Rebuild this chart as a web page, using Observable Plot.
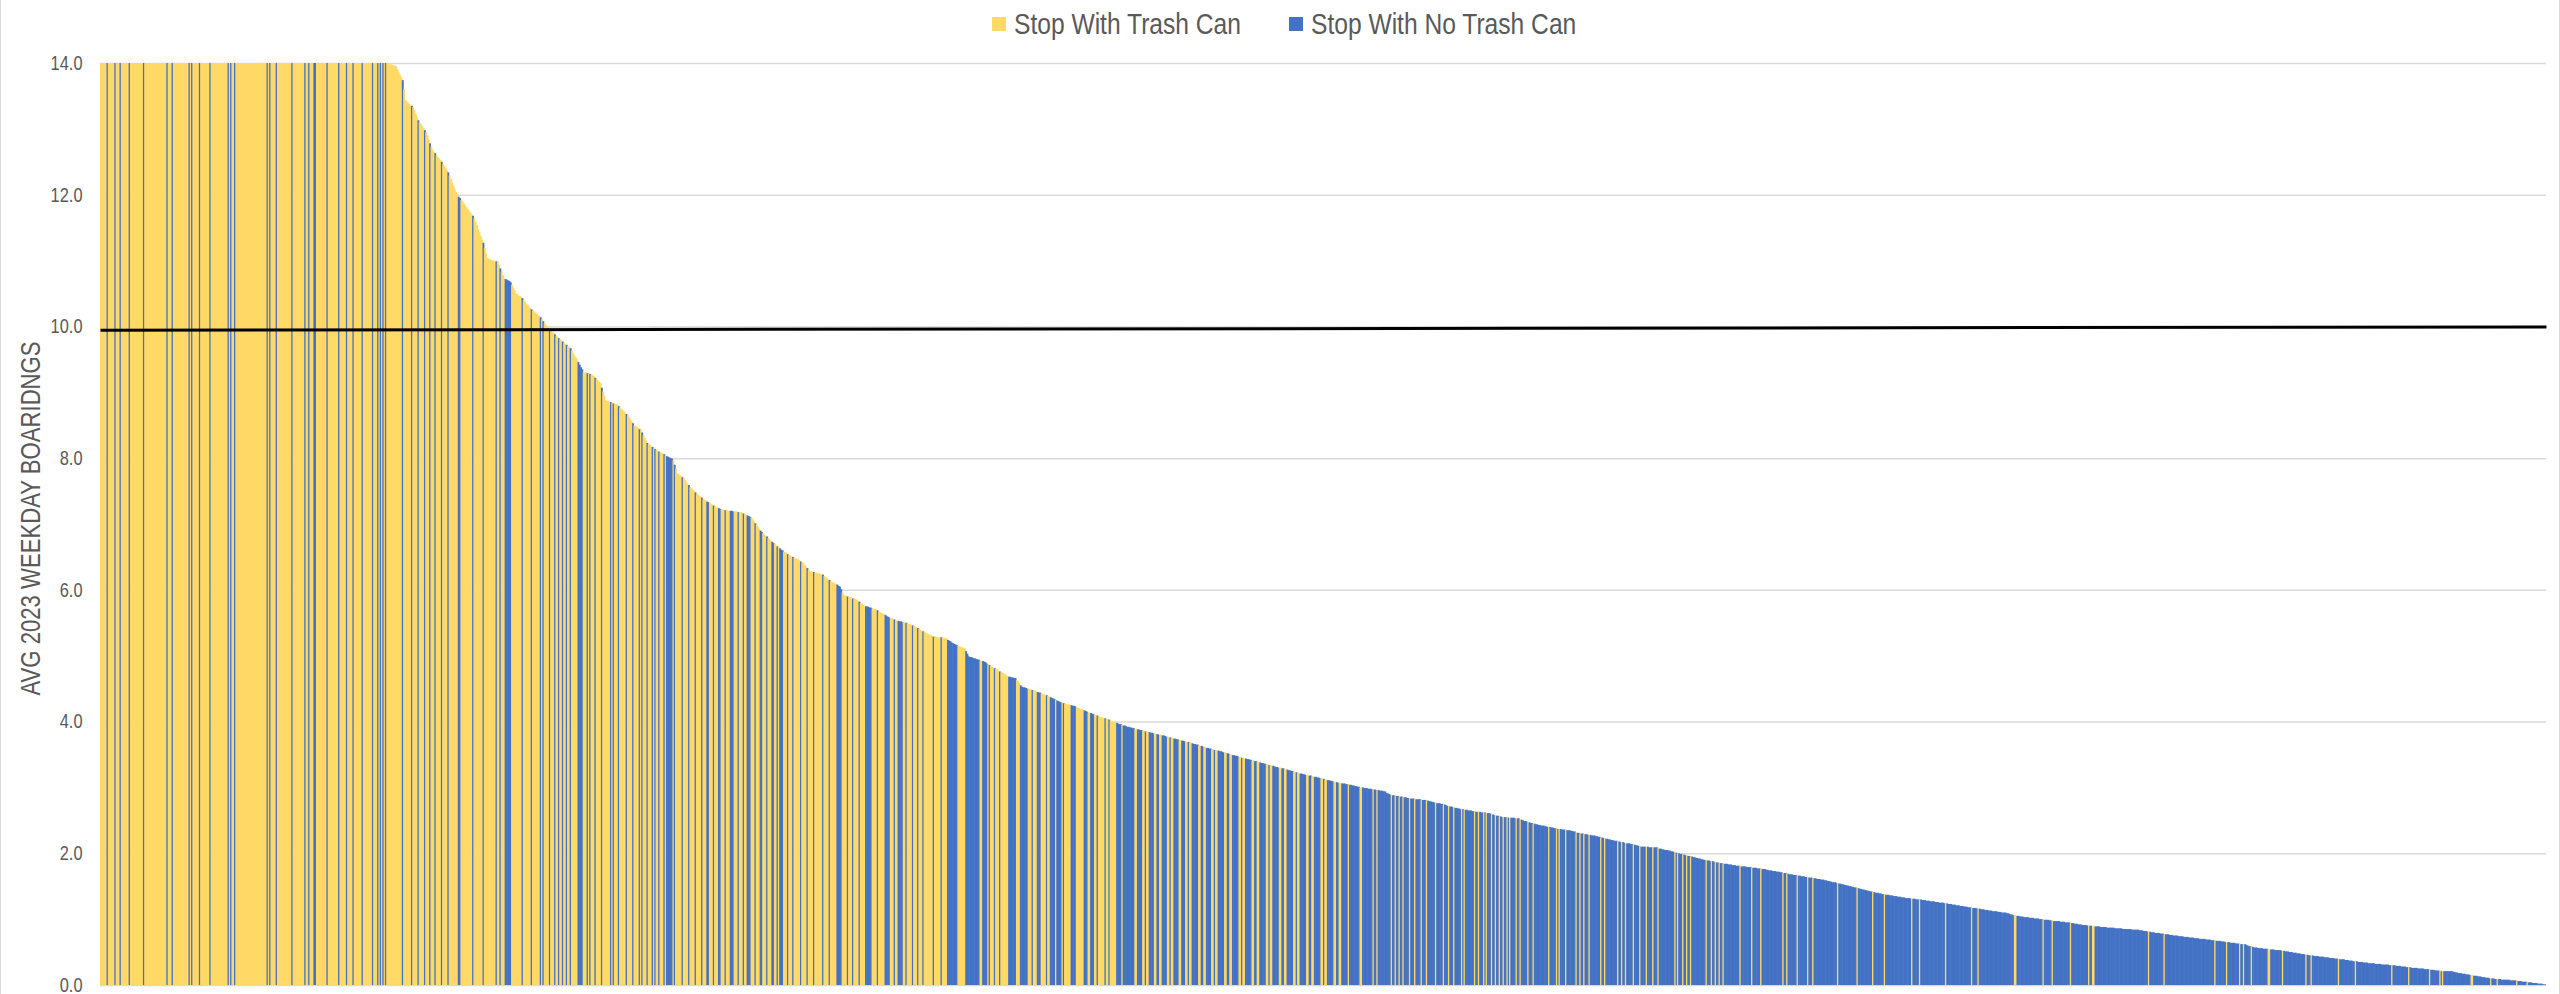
<!DOCTYPE html>
<html>
<head>
<meta charset="utf-8">
<script src="https://cdn.jsdelivr.net/npm/d3@7"></script>
<script src="https://cdn.jsdelivr.net/npm/@observablehq/plot@0.6"></script>
<style>
  html, body { margin: 0; padding: 0; background: #fff; }
  body { width: 2560px; height: 994px; overflow: hidden; position: relative;
         font-family: "Liberation Sans", Arial, sans-serif; }
  #frame { position: absolute; left: 0; top: 0; width: 2558px; height: 994px;
           border-left: 1px solid #d9d9d9; border-right: 1px solid #d9d9d9; pointer-events: none; }
  #legend { height: 40px; display: flex; justify-content: center; align-items: center;
            font-size: 30px; color: #595959; padding-top: 8px; padding-left: 9px; box-sizing: border-box; }
  #legend .item { display: flex; align-items: center; margin: 0 24px; }
  #legend .sw { width: 14px; height: 14px; margin-right: 8px; display: inline-block; }
  #legend .lab { display: inline-block; white-space: nowrap; overflow: visible; }
  #legend .lab span { display: inline-block; transform: scaleX(0.82); transform-origin: 0 50%; }
  #chart svg { display: block; overflow: visible; }
</style>
</head>
<body>
<div id="frame"></div>
<div id="legend"></div>
<div id="chart"></div>
<script>
// ---------- DATA ----------
const categories = ["Stop With Trash Can", "Stop With No Trash Can"];
const colors = ["#FFD966", "#4472C4"];
const yTicks = [0, 2, 4, 6, 8, 10, 12, 14];
const yLabel = "AVG 2023 WEEKDAY BOARIDNGS";
// benchmark line (drawn from the first to the last stop)
const benchmarkStart = 9.95;
const benchmarkEnd = 10.0;

// Average weekday boardings per stop, sorted descending (values above 14 are cut off by the axis)
const boardings = [
212.4,188.1,171.5,160.3,148.9,139.2,131.0,124.6,118.3,112.7,107.9,103.2,99.1,95.4,92.0,88.7,85.6,82.9,80.3,77.8,
75.4,73.1,71.0,69.0,67.1,65.3,63.6,62.0,60.5,59.0,57.6,56.3,55.0,53.8,52.6,51.5,50.4,49.4,48.4,47.4,
46.5,45.6,44.8,44.0,43.2,42.4,41.7,41.0,40.3,39.6,39.0,38.4,37.8,37.2,36.6,36.1,35.6,35.1,34.6,34.1,
33.6,33.2,32.8,32.4,32.0,31.6,31.2,30.8,30.4,30.1,29.8,29.4,29.1,28.8,28.5,28.2,27.9,27.6,27.3,27.0,
26.8,26.5,26.2,26.0,25.7,25.5,25.2,25.0,24.7,24.5,24.3,24.0,23.8,23.6,23.4,23.2,23.0,22.8,22.6,22.4,
22.2,22.0,21.8,21.6,21.4,21.2,21.0,20.9,20.7,20.5,20.3,20.2,20.0,19.8,19.7,19.5,19.4,19.2,19.1,18.9,
18.8,18.6,18.5,18.3,18.2,18.1,17.9,17.8,17.7,17.5,17.4,17.3,17.2,17.0,16.9,16.8,16.7,16.6,16.5,16.4,
16.3,16.2,16.1,16.0,15.9,15.8,15.7,15.6,15.5,15.4,15.3,15.3,15.2,15.1,15.0,14.9,14.9,14.8,14.7,14.7,
14.6,14.6,14.5,14.5,14.4,14.4,14.4,14.3,14.3,14.3,14.2,14.2,14.2,14.2,14.1,14.1,14.1,14.1,14.1,14.1,
14.10,14.10,14.09,14.09,14.08,14.08,14.08,14.07,14.07,14.07,14.06,14.06,14.06,14.05,14.05,14.05,14.05,14.04,14.04,14.04,
14.04,14.03,14.03,14.03,14.03,14.03,14.02,14.02,14.02,14.02,14.02,14.02,14.01,14.01,14.01,14.01,14.01,14.01,14.01,14.01,14.01,
13.99,13.98,13.98,13.97,13.96,13.96,13.95,13.90,13.86,13.82,13.78,13.74,13.60,13.44,13.42,13.40,13.38,13.36,13.35,13.33,
13.28,13.23,13.18,13.13,13.10,13.07,13.04,13.01,12.98,12.95,12.90,12.84,12.78,12.73,12.68,12.65,12.63,12.60,12.57,12.55,
12.53,12.50,12.47,12.44,12.40,12.37,12.34,12.29,12.24,12.19,12.14,12.09,12.04,12.00,11.97,11.95,11.92,11.90,11.87,11.84,
11.81,11.78,11.76,11.73,11.70,11.68,11.65,11.59,11.54,11.48,11.43,11.37,11.32,11.27,11.19,11.11,11.04,11.03,11.02,11.01,
11.00,11.00,10.99,10.99,10.98,10.93,10.88,10.83,10.78,10.73,10.72,10.71,10.70,10.69,10.67,10.63,10.59,10.55,10.50,10.49,
10.47,10.46,10.45,10.43,10.40,10.38,10.35,10.33,10.30,10.28,10.26,10.24,10.23,10.21,10.19,10.17,10.16,10.14,10.11,10.08,
10.05,10.02,10.00,9.97,9.95,9.93,9.92,9.90,9.88,9.86,9.84,9.82,9.81,9.79,9.77,9.75,9.73,9.72,9.70,9.69,
9.67,9.63,9.60,9.56,9.53,9.50,9.46,9.42,9.38,9.35,9.31,9.30,9.30,9.29,9.28,9.28,9.27,9.26,9.24,9.22,
9.20,9.18,9.16,9.14,9.07,9.01,8.94,8.88,8.87,8.86,8.86,8.85,8.84,8.83,8.83,8.82,8.81,8.79,8.77,8.75,
8.73,8.71,8.69,8.67,8.65,8.62,8.59,8.56,8.53,8.50,8.49,8.47,8.46,8.44,8.43,8.39,8.35,8.31,8.27,8.23,
8.21,8.20,8.18,8.17,8.15,8.14,8.13,8.11,8.10,8.09,8.08,8.07,8.06,8.04,8.03,8.02,8.01,8.00,7.99,7.97,
7.90,7.84,7.77,7.76,7.74,7.73,7.71,7.70,7.67,7.64,7.61,7.59,7.56,7.54,7.52,7.50,7.48,7.46,7.45,7.43,7.41,
7.40,7.38,7.37,7.36,7.34,7.33,7.32,7.30,7.29,7.28,7.27,7.26,7.25,7.24,7.23,7.22,7.22,7.21,7.21,7.21,
7.20,7.20,7.20,7.20,7.19,7.19,7.19,7.19,7.18,7.18,7.18,7.17,7.16,7.15,7.14,7.13,7.12,7.11,7.10,7.07,
7.04,7.01,6.99,6.96,6.93,6.90,6.88,6.86,6.84,6.82,6.81,6.79,6.77,6.75,6.73,6.71,6.70,6.68,6.66,6.65,6.63,6.61,
6.60,6.58,6.57,6.56,6.54,6.53,6.52,6.51,6.50,6.49,6.48,6.47,6.46,6.45,6.43,6.42,6.41,6.38,6.35,6.33,
6.30,6.28,6.28,6.27,6.27,6.26,6.26,6.25,6.25,6.24,6.24,6.23,6.21,6.19,6.18,6.16,6.15,6.13,6.12,6.11,
6.10,6.09,6.08,6.06,6.05,6.01,5.96,5.92,5.91,5.91,5.90,5.89,5.89,5.88,5.87,5.87,5.86,5.85,5.83,5.82,
5.80,5.79,5.77,5.76,5.75,5.75,5.74,5.73,5.73,5.72,5.71,5.71,5.70,5.69,5.67,5.66,5.65,5.64,5.63,5.62,
5.60,5.59,5.58,5.57,5.57,5.56,5.55,5.54,5.53,5.53,5.52,5.52,5.51,5.51,5.50,5.50,5.49,5.48,5.48,5.47,
5.46,5.45,5.44,5.43,5.42,5.41,5.39,5.38,5.37,5.36,5.35,5.34,5.33,5.32,5.31,5.30,5.29,5.29,5.29,5.28,
5.28,5.28,5.28,5.27,5.27,5.27,5.26,5.24,5.23,5.22,5.20,5.19,5.18,5.17,5.16,5.15,5.14,5.13,5.13,5.12,
5.11,5.07,5.03,4.99,4.98,4.98,4.97,4.96,4.96,4.95,4.94,4.94,4.93,4.92,4.92,4.91,4.90,4.88,4.87,4.86,
4.85,4.83,4.82,4.81,4.80,4.79,4.77,4.76,4.75,4.74,4.73,4.72,4.70,4.69,4.68,4.68,4.67,4.67,4.66,4.66,
4.63,4.61,4.58,4.55,4.53,4.52,4.52,4.51,4.50,4.50,4.49,4.49,4.48,4.47,4.47,4.46,4.45,4.44,4.44,4.43,
4.42,4.41,4.40,4.40,4.39,4.38,4.37,4.36,4.35,4.34,4.33,4.32,4.31,4.30,4.29,4.29,4.28,4.27,4.27,4.26,
4.26,4.25,4.25,4.24,4.24,4.23,4.22,4.21,4.20,4.19,4.19,4.18,4.17,4.16,4.15,4.14,4.13,4.13,4.12,4.11,
4.10,4.10,4.09,4.08,4.07,4.07,4.06,4.05,4.05,4.04,4.04,4.03,4.02,4.01,4.00,4.00,3.99,3.98,3.97,3.96,
3.96,3.95,3.94,3.94,3.93,3.92,3.92,3.91,3.91,3.90,3.90,3.89,3.89,3.88,3.88,3.87,3.87,3.86,3.86,3.85,
3.85,3.84,3.84,3.83,3.83,3.82,3.82,3.81,3.81,3.80,3.80,3.80,3.79,3.79,3.78,3.77,3.77,3.76,3.76,3.75,
3.75,3.74,3.74,3.73,3.73,3.72,3.72,3.71,3.71,3.70,3.70,3.69,3.69,3.68,3.68,3.67,3.66,3.66,3.65,3.65,
3.64,3.63,3.63,3.62,3.62,3.61,3.60,3.60,3.59,3.59,3.58,3.58,3.57,3.57,3.56,3.56,3.55,3.55,3.54,3.53,
3.53,3.52,3.52,3.51,3.50,3.50,3.49,3.49,3.48,3.48,3.47,3.46,3.46,3.45,3.45,3.44,3.44,3.43,3.43,3.42,
3.42,3.41,3.41,3.40,3.40,3.39,3.38,3.38,3.37,3.37,3.36,3.36,3.35,3.35,3.34,3.34,3.33,3.33,3.32,3.31,
3.31,3.30,3.30,3.30,3.29,3.29,3.28,3.28,3.27,3.26,3.26,3.25,3.25,3.24,3.23,3.23,3.22,3.22,3.21,3.21,
3.20,3.20,3.19,3.19,3.18,3.18,3.18,3.17,3.17,3.16,3.16,3.15,3.15,3.14,3.14,3.13,3.13,3.12,3.12,3.11,
3.11,3.10,3.10,3.09,3.09,3.08,3.08,3.07,3.07,3.07,3.06,3.06,3.06,3.05,3.05,3.05,3.04,3.04,3.03,3.03,
3.02,3.02,3.01,3.01,3.00,3.00,3.00,2.99,2.99,2.99,2.98,2.98,2.98,2.97,2.97,2.97,2.96,2.96,2.96,2.95,
2.95,2.95,2.94,2.94,2.92,2.91,2.90,2.89,2.89,2.88,2.88,2.88,2.87,2.87,2.86,2.86,2.86,2.85,2.85,2.85,
2.84,2.84,2.84,2.83,2.83,2.83,2.83,2.82,2.82,2.82,2.82,2.81,2.81,2.81,2.81,2.80,2.80,2.79,2.79,2.78,
2.78,2.77,2.77,2.76,2.76,2.76,2.75,2.75,2.74,2.74,2.73,2.72,2.72,2.71,2.71,2.70,2.70,2.69,2.69,2.68,
2.68,2.67,2.67,2.67,2.66,2.66,2.66,2.65,2.65,2.65,2.64,2.64,2.64,2.63,2.63,2.63,2.63,2.62,2.62,2.62,
2.62,2.61,2.61,2.61,2.60,2.59,2.59,2.58,2.58,2.57,2.57,2.56,2.56,2.55,2.55,2.55,2.55,2.55,2.54,2.54,
2.54,2.54,2.54,2.53,2.53,2.53,2.53,2.52,2.51,2.50,2.49,2.49,2.48,2.47,2.47,2.46,2.46,2.45,2.45,2.44,
2.44,2.43,2.43,2.42,2.42,2.42,2.41,2.41,2.40,2.40,2.40,2.39,2.39,2.38,2.38,2.38,2.37,2.37,2.37,2.36,
2.36,2.36,2.36,2.35,2.35,2.35,2.34,2.34,2.33,2.33,2.32,2.31,2.31,2.30,2.30,2.30,2.29,2.29,2.29,2.28,
2.28,2.28,2.27,2.27,2.27,2.26,2.26,2.25,2.25,2.24,2.24,2.23,2.23,2.22,2.22,2.21,2.21,2.20,2.20,2.19,
2.19,2.19,2.18,2.18,2.17,2.17,2.17,2.16,2.16,2.15,2.15,2.15,2.14,2.14,2.13,2.13,2.12,2.12,2.11,2.11,
2.10,2.10,2.10,2.10,2.10,2.10,2.09,2.09,2.09,2.09,2.09,2.09,2.09,2.08,2.07,2.07,2.06,2.06,2.05,2.05,
2.05,2.04,2.04,2.03,2.03,2.02,2.02,2.01,2.00,2.00,1.99,1.99,1.98,1.98,1.97,1.97,1.96,1.96,1.95,1.95,
1.94,1.94,1.93,1.93,1.92,1.92,1.91,1.91,1.90,1.90,1.90,1.89,1.89,1.88,1.88,1.88,1.87,1.87,1.86,1.86,
1.86,1.85,1.85,1.85,1.84,1.84,1.84,1.83,1.83,1.83,1.82,1.82,1.82,1.81,1.81,1.81,1.81,1.80,1.80,1.80,
1.80,1.79,1.79,1.79,1.79,1.78,1.78,1.78,1.78,1.77,1.77,1.77,1.77,1.76,1.76,1.76,1.75,1.75,1.74,1.74,
1.74,1.73,1.73,1.73,1.72,1.72,1.72,1.71,1.71,1.70,1.70,1.70,1.69,1.69,1.68,1.68,1.68,1.67,1.67,1.67,
1.66,1.66,1.66,1.65,1.65,1.65,1.64,1.64,1.64,1.63,1.63,1.63,1.62,1.62,1.62,1.61,1.61,1.61,1.60,1.60,
1.60,1.59,1.59,1.58,1.58,1.57,1.57,1.56,1.56,1.56,1.55,1.55,1.54,1.54,1.53,1.53,1.52,1.52,1.51,1.51,
1.50,1.50,1.49,1.49,1.48,1.48,1.47,1.47,1.46,1.46,1.45,1.45,1.44,1.44,1.43,1.43,1.42,1.42,1.41,1.41,
1.40,1.40,1.40,1.39,1.39,1.38,1.38,1.38,1.37,1.37,1.37,1.36,1.36,1.36,1.35,1.35,1.35,1.34,1.34,1.34,
1.33,1.33,1.33,1.32,1.32,1.32,1.32,1.31,1.31,1.31,1.31,1.30,1.30,1.30,1.30,1.30,1.29,1.29,1.29,1.28,
1.28,1.28,1.27,1.27,1.27,1.27,1.26,1.26,1.26,1.25,1.25,1.25,1.25,1.24,1.24,1.24,1.23,1.23,1.23,1.22,
1.22,1.22,1.21,1.21,1.21,1.20,1.20,1.20,1.19,1.19,1.19,1.18,1.18,1.18,1.17,1.17,1.17,1.17,1.16,1.16,
1.16,1.15,1.15,1.15,1.14,1.14,1.14,1.13,1.13,1.13,1.12,1.12,1.12,1.12,1.11,1.11,1.11,1.10,1.10,1.10,
1.10,1.09,1.09,1.08,1.07,1.07,1.06,1.06,1.05,1.05,1.05,1.04,1.04,1.04,1.03,1.03,1.03,1.03,1.02,1.02,
1.02,1.02,1.01,1.01,1.01,1.01,1.00,1.00,1.00,1.00,0.99,0.99,0.99,0.99,0.98,0.98,0.98,0.97,0.97,0.97,
0.97,0.97,0.96,0.96,0.96,0.96,0.95,0.95,0.95,0.95,0.94,0.94,0.94,0.93,0.93,0.93,0.92,0.92,0.92,0.91,
0.91,0.91,0.91,0.90,0.90,0.90,0.90,0.90,0.89,0.89,0.89,0.89,0.89,0.88,0.88,0.88,0.88,0.88,0.87,0.87,
0.87,0.87,0.87,0.87,0.86,0.86,0.86,0.86,0.86,0.86,0.85,0.85,0.85,0.85,0.85,0.85,0.85,0.84,0.84,0.84,
0.84,0.84,0.84,0.83,0.83,0.83,0.82,0.82,0.82,0.81,0.81,0.81,0.80,0.80,0.80,0.79,0.79,0.79,0.79,0.78,
0.78,0.78,0.77,0.77,0.77,0.77,0.76,0.76,0.76,0.75,0.75,0.75,0.75,0.74,0.74,0.74,0.74,0.73,0.73,0.73,
0.73,0.72,0.72,0.72,0.72,0.71,0.71,0.71,0.71,0.70,0.70,0.70,0.70,0.70,0.69,0.69,0.69,0.69,0.68,0.68,
0.68,0.68,0.67,0.67,0.67,0.67,0.66,0.66,0.66,0.65,0.65,0.65,0.65,0.64,0.64,0.64,0.64,0.63,0.63,0.63,
0.63,0.62,0.62,0.62,0.62,0.61,0.60,0.59,0.59,0.58,0.58,0.57,0.57,0.57,0.56,0.56,0.56,0.56,0.55,0.55,
0.55,0.55,0.54,0.54,0.54,0.54,0.54,0.53,0.53,0.53,0.53,0.53,0.52,0.52,0.52,0.51,0.51,0.51,0.50,0.50,
0.50,0.49,0.49,0.49,0.48,0.48,0.48,0.47,0.47,0.47,0.46,0.46,0.46,0.45,0.45,0.45,0.45,0.44,0.44,0.44,
0.44,0.43,0.43,0.43,0.43,0.42,0.42,0.42,0.42,0.41,0.41,0.41,0.41,0.40,0.40,0.40,0.40,0.39,0.39,0.39,
0.39,0.38,0.38,0.38,0.37,0.37,0.37,0.36,0.36,0.36,0.36,0.35,0.35,0.35,0.35,0.34,0.34,0.34,0.34,0.33,
0.33,0.33,0.33,0.33,0.32,0.32,0.32,0.32,0.32,0.31,0.31,0.31,0.31,0.31,0.31,0.30,0.30,0.30,0.30,0.30,
0.29,0.29,0.29,0.29,0.28,0.28,0.28,0.28,0.27,0.27,0.27,0.27,0.26,0.26,0.26,0.26,0.26,0.25,0.25,0.25,
0.25,0.25,0.24,0.24,0.24,0.24,0.23,0.23,0.23,0.23,0.22,0.22,0.22,0.22,0.22,0.21,0.21,0.21,0.21,0.21,
0.21,0.21,0.21,0.21,0.20,0.20,0.19,0.19,0.18,0.18,0.18,0.17,0.17,0.17,0.16,0.16,0.16,0.15,0.15,0.15,
0.14,0.14,0.14,0.13,0.13,0.13,0.12,0.12,0.12,0.11,0.11,0.11,0.10,0.10,0.10,0.10,0.09,0.09,0.09,0.09,
0.09,0.08,0.08,0.08,0.08,0.08,0.08,0.08,0.07,0.07,0.07,0.07,0.07,0.07,0.06,0.06,0.06,0.05,0.05,0.05,
0.05,0.04,0.04,0.04,0.04,0.03,0.03,0.03,0.03,0.02,0.02,0.02,0.02,0.01,0.01,0.01
];

// Ranks (0 = busiest) of stops with NO trash can, as inclusive runs, for ranks below canSplitRank
const noCanRuns = [
[5,5],[11,11],[15,15],[22,22],[33,33],[51,51],[55,55],[68,68],[70,70],[76,76],[84,84],[98,98],[100,100],[103,103],
[128,128],[130,130],[135,135],[147,147],[157,157],[160,160],[164,165],[174,174],[183,183],[189,189],[194,194],
[201,201],[209,209],[213,213],[215,215],[217,217],[219,219],
[232,232],[239,239],[244,244],[249,249],[253,253],[257,257],[262,262],[267,267],[275,276],[286,286],[294,294],
[304,304],[307,307],[311,315],[324,324],[331,331],[338,338],[340,340],[345,345],[349,349],[352,352],[355,355],
[358,358],[361,361],[367,370],[374,374],[376,376],[380,380],[385,385],[392,392],[394,394],[398,398],[404,404],
[409,409],[414,414],[416,416],[420,420],[424,424],[426,426],[429,429],[433,433],[435,439],[441,441],[447,447],
[452,452],[457,457],[462,462],
[466,467],[471,471],[475,476],[480,480],[484,486],[490,490],[494,494],[497,499],[503,503],[507,508],[512,512],
[516,517],[520,520],
[522,524],[528,528],[532,532],[538,538],[543,543],[548,548],[555,555],[560,560],[566,569],[574,574],[578,578],
[583,583],[588,592],[597,597],[603,606],[610,610],[613,616],[619,619],[624,624],[628,628],[632,632],[640,640],
[646,646],[651,658],[665,675],[678,681],[683,683],[687,687],[691,691],[698,703],[707,712],[716,716],[720,722],
[727,727],[730,733],[735,738],[740,740],[746,749],[756,758],[761,763],[766,766],[772,772],[775,775],[781,784],
[786,794],
[797,800],[803,803],[806,809],[812,813],[816,819],[822,822],[825,828],[831,833],[836,836],[839,843],[846,847],
[850,853],[856,856],[859,863],[866,867],[870,874],[877,877],[880,884],[887,888],[891,895],[898,898],[901,905],
[908,909],[912,916],[919,919],[922,926],[929,930],[933,937],[940,940],[943,947],[950,951],[954,958],[960,967]
];
const canSplitRank = 968;
// Ranks of stops WITH a trash can, from canSplitRank on
const canRanks = [
968,969,978,981,992,995,998,1001,1006,1010,1015,1019,1026,1032,1036,1040,1046,1048,1056,1059,1063,1065,1069,
1072,1075,1078,1081,1083,1088,1091,1097,1101,1113,1119,1121,1126,1134,1137,1140,1144,1153,1156,1166,1169,1172,
1178,1183,1188,1193,1197,1210,1212,1216,1219,1222,1234,1238,1241,1244,1247,1260,1269,1276,1293,1296,1304,1312,
1316,1335,1350,1362,1371,1392,1398,1418,1438,1443,1471,1472,1493,1500,1514,1528,1531,1532,1574,1586,1625,1634,
1644,1647,1653,1666,1667,1677,1695,1699,1720,1733,1761,1774,1790,1798,1800,1822,1823,1837,1842,1857,1865
];

// ---------- TABLE ----------
const canSet = new Set(canRanks);
function hasCan(r) {
  if (r < canSplitRank) return !noCanRuns.some(([a, b]) => r >= a && r <= b);
  return canSet.has(r);
}
const stops = boardings.map((v, r) => ({rank: r, next: r + 1, boardings: v, type: hasCan(r) ? categories[0] : categories[1]}));
const N = stops.length;
const benchmark = [{from: 0, to: N, start: benchmarkStart, end: benchmarkEnd}];

// ---------- LEGEND (Arial-Narrow look: Liberation Sans squeezed to 82%) ----------
const NARROW = 0.82;
const legendFontPx = 30;
const measureCtx = document.createElement("canvas").getContext("2d");
measureCtx.font = `${legendFontPx}px "Liberation Sans", Arial, sans-serif`;
const legend = document.getElementById("legend");
categories.forEach((c, i) => {
  const item = document.createElement("div");
  item.className = "item";
  const sw = document.createElement("span");
  sw.className = "sw";
  sw.style.background = colors[i];
  const lab = document.createElement("span");
  lab.className = "lab";
  lab.style.width = (measureCtx.measureText(c).width * NARROW) + "px";
  const inner = document.createElement("span");
  inner.textContent = c;
  lab.appendChild(inner);
  item.appendChild(sw); item.appendChild(lab);
  legend.appendChild(item);
});

// ---------- CHART ----------
const chart = Plot.plot({
  width: 2560,
  height: 954,
  marginLeft: 100,
  marginRight: 14,
  marginTop: 23,
  marginBottom: 9,
  style: {fontFamily: '"Liberation Sans", Arial, sans-serif', fontSize: "20px", color: "#595959", background: "transparent", overflow: "visible"},
  x: {domain: [0, N], axis: null},
  y: {domain: [0, 14], ticks: yTicks, tickFormat: d3.format(".1f"), tickSize: 0, tickPadding: 18, label: null},
  color: {domain: categories, range: colors},
  marks: [
    Plot.ruleY(yTicks, {stroke: "#d9d9d9", strokeWidth: 1.5}),
    Plot.rect(stops, {x1: "rank", x2: d => d.next + 0.45, y1: 0, y2: "boardings", fill: "type", clip: true}),
    Plot.link(benchmark, {x1: "from", x2: "to", y1: "start", y2: "end", stroke: "#000", strokeWidth: 3}),
    Plot.text([yLabel], {frameAnchor: "left", rotate: -90, dx: -69, dy: -6, fontSize: 27, fill: "#595959", textAnchor: "middle"})
  ]
});
// squeeze every text horizontally (along its own baseline) to get the narrow face
chart.querySelectorAll("text").forEach(t => {
  const tr = t.getAttribute("transform") || "";
  t.setAttribute("transform", (tr + ` scale(${NARROW},1)`).trim());
});
document.getElementById("chart").appendChild(chart);
</script>
</body>
</html>
